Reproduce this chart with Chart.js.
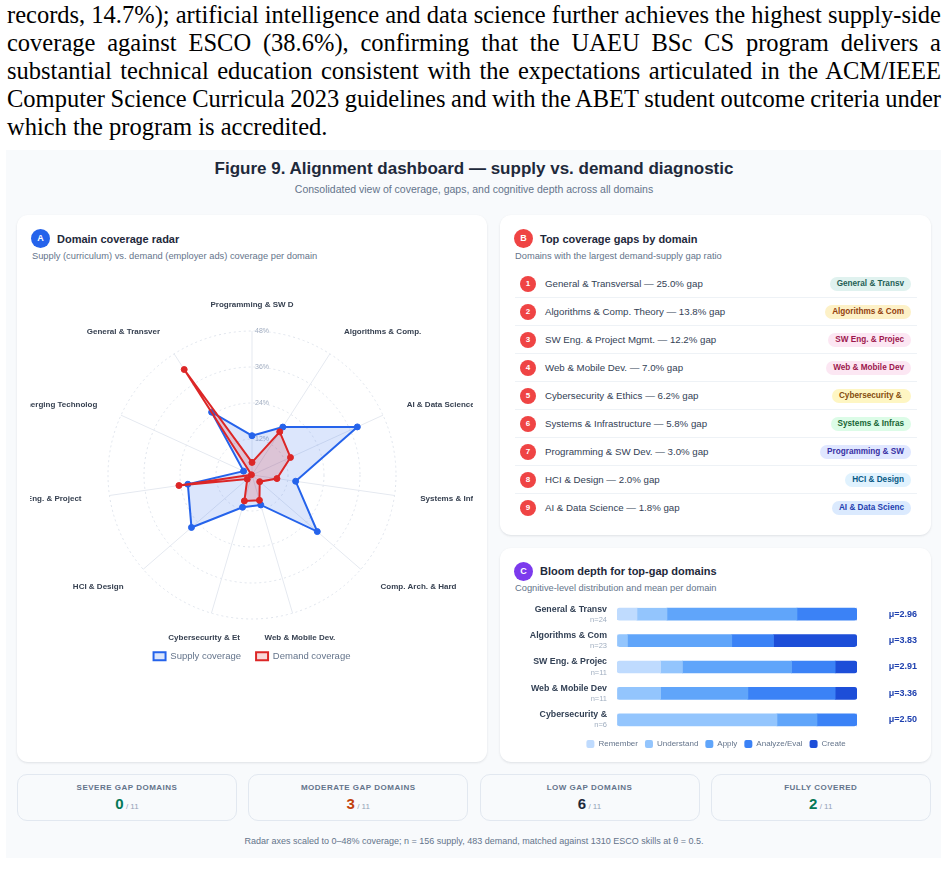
<!DOCTYPE html>
<html>
<head>
<meta charset="utf-8">
<script src="https://cdn.jsdelivr.net/npm/chart.js@4.4.1/dist/chart.umd.min.js"></script>
<style>
html, body { margin: 0; padding: 0; background: #fff; }
body { width: 948px; height: 875px; position: relative; overflow: hidden; font-family: 'Liberation Sans', Arial, sans-serif; }
.abs { position: absolute; }
.para { left: 7px; top: 1px; width: 934px; font-family: 'Liberation Serif', 'Times New Roman', serif; font-size: 24.5px; line-height: 28px; word-spacing: -1px; color: #000; }
.para div { text-align: justify; text-align-last: justify; white-space: nowrap; }
.para div.last { text-align-last: left; word-spacing: 0; }
.panel { left: 6px; top: 150px; width: 935px; height: 708px; background: #f8fafc; }
.title { left: 0; width: 948px; top: 158px; text-align: center; font-weight: bold; font-size: 17px; line-height: 22px; color: #1e293b; }
.subtitle { left: 0; width: 948px; top: 183px; text-align: center; font-size: 10.5px; line-height: 13px; color: #64748b; }
.card { background: #fff; border-radius: 11px; box-shadow: 0 1px 3px rgba(15, 23, 42, 0.07), 0 1px 2px rgba(15, 23, 42, 0.04); }
.badge { width: 19px; height: 19px; border-radius: 50%; color: #fff; font-weight: bold; font-size: 9px; line-height: 19px; text-align: center; }
.ctitle { font-weight: bold; font-size: 11px; line-height: 14px; color: #1e293b; white-space: nowrap; }
.csub { font-size: 9.3px; line-height: 12px; color: #64748b; white-space: nowrap; }
.row { position: absolute; left: 0; width: 402px; height: 28px; box-sizing: border-box; border-bottom: 1px solid #eef2f6; }
.row.last { border-bottom: none; }
.num { position: absolute; left: 5px; top: 6px; width: 16px; height: 16px; border-radius: 50%; background: #ef4444; color: #fff; font-weight: bold; font-size: 8px; line-height: 16px; text-align: center; }
.rtext { position: absolute; left: 30px; top: 7px; font-size: 9.7px; line-height: 14px; color: #334155; white-space: nowrap; }
.pill { position: absolute; right: 6px; top: 7px; height: 14px; padding: 0 7px; border-radius: 7px; font-weight: bold; font-size: 8.2px; line-height: 14px; white-space: pre; }
.stat { top: 774px; width: 220px; height: 47px; box-sizing: border-box; border: 1px solid #e2e8f0; border-radius: 10px; background: #f8fafc; text-align: center; }
.slabel { position: absolute; left: 0; right: 0; top: 8px; font-weight: bold; font-size: 8px; line-height: 10px; letter-spacing: 0.5px; color: #64748b; }
.sval { position: absolute; left: 0; right: 0; top: 20px; line-height: 18px; }
.sval b { font-size: 15px; }
.sval span { font-size: 8px; color: #94a3b8; }
.foot { left: 0; width: 948px; top: 835px; text-align: center; font-size: 9px; line-height: 12px; color: #64748b; }
</style>
</head>
<body>
<div class="abs para">
  <div>records, 14.7%); artificial intelligence and data science further achieves the highest supply-side</div>
  <div>coverage against ESCO (38.6%), confirming that the UAEU BSc CS program delivers a</div>
  <div>substantial technical education consistent with the expectations articulated in the ACM/IEEE</div>
  <div>Computer Science Curricula 2023 guidelines and with the ABET student outcome criteria under</div>
  <div class="last">which the program is accredited.</div>
</div>

<div class="abs panel"></div>
<div class="abs title">Figure 9. Alignment dashboard — supply vs. demand diagnostic</div>
<div class="abs subtitle">Consolidated view of coverage, gaps, and cognitive depth across all domains</div>

<!-- A: radar -->
<div class="abs card" style="left:17px; top:215px; width:470px; height:547px;"></div>
<div class="abs badge" style="left:31px; top:229px; background:#2563eb;">A</div>
<div class="abs ctitle" style="left:57px; top:232px;">Domain coverage radar</div>
<div class="abs csub" style="left:32px; top:250px;">Supply (curriculum) vs. demand (employer ads) coverage per domain</div>
<div class="abs" style="left:30px; top:284px; width:443px; height:388px;"><canvas id="radar"></canvas></div>

<!-- B: gap list -->
<div class="abs card" style="left:500px; top:215px; width:431px; height:320px;"></div>
<div class="abs badge" style="left:514px; top:229px; background:#ef4444;">B</div>
<div class="abs ctitle" style="left:540px; top:232px;">Top coverage gaps by domain</div>
<div class="abs csub" style="left:515px; top:250px;">Domains with the largest demand-supply gap ratio</div>
<div class="abs" id="gaplist" style="left:515px; top:270px; width:402px; height:252px;"></div>

<!-- C: bloom -->
<div class="abs card" style="left:500px; top:548px; width:431px; height:214px;"></div>
<div class="abs badge" style="left:514px; top:562px; background:#7c3aed;">C</div>
<div class="abs ctitle" style="left:540px; top:564px;">Bloom depth for top-gap domains</div>
<div class="abs csub" style="left:515px; top:582px;">Cognitive-level distribution and mean per domain</div>
<div class="abs" style="left:515px; top:601px; width:402px; height:157px;"><canvas id="bloom"></canvas></div>

<div id="stats"></div>
<div class="abs foot">Radar axes scaled to 0–48% coverage; n = 156 supply, 483 demand, matched against 1310 ESCO skills at θ = 0.5.</div>

<script>
// Radar data (coverage %, read per domain)
const domains = ['Programming & SW Dev.', 'Algorithms & Comp. Theory', 'AI & Data Science', 'Systems & Infrastructure',
  'Comp. Arch. & Hardware', 'Web & Mobile Dev.', 'Cybersecurity & Ethics', 'HCI & Design',
  'SW Eng. & Project Mgmt.', 'Emerging Technologies', 'General & Transversal'];
const supply = [13.1, 19.0, 38.6, 14.7, 28.8, 10.4, 11.2, 26.7, 21.6, 3.1, 24.9];
const demand = [4.2, 17.1, 14.1, 8.4, 3.4, 8.8, 9.0, 2.1, 24.6, 0.2, 41.8];
const radarMax = 48;
const radarStep = 12;

// Gap ranking
const gapDomains = ['General & Transversal', 'Algorithms & Comp. Theory', 'SW Eng. & Project Mgmt.', 'Web & Mobile Dev.',
  'Cybersecurity & Ethics', 'Systems & Infrastructure', 'Programming & SW Dev.', 'HCI & Design', 'AI & Data Science'];
const gapValues = [25.0, 13.8, 12.2, 7.0, 6.2, 5.8, 3.0, 2.0, 1.8];
const pillBg = ['#e0f2ef', '#fdf1c7', '#fce7f3', '#fce7f3', '#fef6c3', '#dcfce7', '#e0e7ff', '#e0f2fe', '#dbeafe'];
const pillFg = ['#1f5f55', '#92400e', '#9d174d', '#9d174d', '#854d0e', '#166534', '#3730a3', '#075985', '#1e40af'];

// Bloom counts per domain
const bloomDomains = ['General & Transv', 'Algorithms & Com', 'SW Eng. & Projec', 'Web & Mobile Dev', 'Cybersecurity &'];
const bloomLevels = ['Remember', 'Understand', 'Apply', 'Analyze/Eval', 'Create'];
const remember = [2, 0, 2, 0, 0];
const understand = [3, 1, 1, 2, 4];
const apply = [13, 10, 5, 4, 1];
const analyze = [6, 4, 2, 4, 1];
const create = [0, 8, 1, 1, 0];
const bloomMeans = [2.96, 3.83, 2.91, 3.36, 2.50];
const bloomColors = ['#bfdbfe', '#93c5fd', '#60a5fa', '#3b82f6', '#1d4ed8'];

// Summary tiles
const statLabels = ['SEVERE GAP DOMAINS', 'MODERATE GAP DOMAINS', 'LOW GAP DOMAINS', 'FULLY COVERED'];
const statValues = [0, 3, 6, 2];
const statColors = ['#047857', '#c2410c', '#1e293b', '#047857'];
const domainTotal = 11;

Chart.defaults.font.family = "'Liberation Sans', Arial, sans-serif";

// Gap list
const list = document.getElementById('gaplist');
gapDomains.forEach((d, i) => {
  const row = document.createElement('div');
  row.className = 'row' + (i === gapDomains.length - 1 ? ' last' : '');
  row.style.top = (i * 28) + 'px';
  const num = document.createElement('div');
  num.className = 'num';
  num.textContent = i + 1;
  const txt = document.createElement('div');
  txt.className = 'rtext';
  txt.textContent = d + ' — ' + gapValues[i].toFixed(1) + '% gap';
  const pill = document.createElement('div');
  pill.className = 'pill';
  pill.style.background = pillBg[i];
  pill.style.color = pillFg[i];
  pill.textContent = d.slice(0, 16);
  row.append(num, txt, pill);
  list.appendChild(row);
});

// Stat tiles
const stats = document.getElementById('stats');
statLabels.forEach((l, i) => {
  const box = document.createElement('div');
  box.className = 'abs stat';
  box.style.left = (17 + i * 231.25) + 'px';
  box.innerHTML = '<div class="slabel"></div><div class="sval"><b></b><span> / ' + domainTotal + '</span></div>';
  box.querySelector('.slabel').textContent = l;
  const b = box.querySelector('b');
  b.textContent = statValues[i];
  b.style.color = statColors[i];
  stats.appendChild(box);
});

// Radar: axis names and % ticks drawn from the scale geometry
const radarText = {
  id: 'radarText',
  beforeDatasetsDraw(chart) {
    const s = chart.scales.r, ctx = chart.ctx;
    ctx.save();
    ctx.font = "7px 'Liberation Sans', Arial, sans-serif";
    ctx.fillStyle = '#a3afc2';
    ctx.textAlign = 'left';
    ctx.textBaseline = 'middle';
    s.ticks.forEach(t => {
      if (t.value <= 0) return;
      ctx.fillText(t.value + '%', s.xCenter + 3, s.yCenter - s.getDistanceFromCenterForValue(t.value));
    });
    ctx.restore();
  },
  afterDraw(chart) {
    const s = chart.scales.r, ctx = chart.ctx;
    const labels = chart.data.labels;
    ctx.save();
    ctx.font = "bold 8px 'Liberation Sans', Arial, sans-serif";
    ctx.fillStyle = '#374151';
    ctx.textBaseline = 'middle';
    labels.forEach((lab, i) => {
      const p = s.getPointPosition(i, s.drawingArea + 26);
      const sx = Math.sin(i / labels.length * Math.PI * 2);
      ctx.textAlign = Math.abs(sx) < 0.3 ? 'center' : (sx > 0 ? 'left' : 'right');
      ctx.fillText(lab, p.x, p.y);
    });
    ctx.restore();
  }
};

new Chart(document.getElementById('radar'), {
  type: 'radar',
  data: {
    labels: domains.map(d => d.slice(0, 18)),
    datasets: [
      {
        label: 'Supply coverage', data: supply, order: 2,
        borderColor: '#2563eb', backgroundColor: 'rgba(37, 99, 235, 0.16)',
        pointBackgroundColor: '#2563eb', pointBorderColor: '#2563eb',
        borderWidth: 2, pointRadius: 3, pointBorderWidth: 1, fill: true
      },
      {
        label: 'Demand coverage', data: demand, order: 1,
        borderColor: '#dc2626', backgroundColor: 'rgba(220, 38, 38, 0.18)',
        pointBackgroundColor: '#dc2626', pointBorderColor: '#dc2626',
        borderWidth: 2, pointRadius: 3, pointBorderWidth: 1, fill: true
      }
    ]
  },
  options: {
    responsive: true,
    maintainAspectRatio: false,
    animation: false,
    layout: { padding: { left: 78, right: 77, top: 31, bottom: 1 } },
    plugins: {
      legend: {
        position: 'bottom',
        labels: {
          boxWidth: 12, boxHeight: 8, padding: 15, color: '#64748b', font: { size: 9.5 },
          sort: (a, b) => a.datasetIndex - b.datasetIndex
        }
      },
      tooltip: { enabled: false }
    },
    scales: {
      r: {
        min: 0,
        max: radarMax,
        ticks: { stepSize: radarStep, display: false },
        pointLabels: { display: false },
        grid: { circular: true, color: '#dfe4ec', lineWidth: 1 },
        border: { dash: [2, 3] },
        angleLines: { color: '#e5e9f0', lineWidth: 1 }
      }
    }
  },
  plugins: [radarText]
});

// Bloom stacked bars (share of each level per domain)
const bloomSeries = [remember, understand, apply, analyze, create];
const bloomN = bloomDomains.map((_, r) => bloomSeries.reduce((sum, s) => sum + s[r], 0));

function edgeRadius(ctx) {
  const r = ctx.dataIndex, d = ctx.datasetIndex;
  let first = -1, last = -1;
  bloomSeries.forEach((s, k) => { if (s[r] > 0) { if (first < 0) first = k; last = k; } });
  const L = d === first ? 3 : 0, R = d === last ? 3 : 0;
  return { topLeft: L, bottomLeft: L, topRight: R, bottomRight: R };
}

// "n=" counts under each domain name
const bloomNotes = {
  id: 'bloomNotes',
  afterDraw(chart) {
    const y = chart.scales.y, ctx = chart.ctx;
    ctx.save();
    ctx.font = "7.5px 'Liberation Sans', Arial, sans-serif";
    ctx.fillStyle = '#a0aec0';
    ctx.textAlign = 'right';
    ctx.textBaseline = 'middle';
    bloomN.forEach((n, i) => ctx.fillText('n=' + n, chart.chartArea.left - 10, y.getPixelForValue(i) + 5.5));
    ctx.restore();
  }
};

function fixedWidth(w) {
  return s => { s.width = w; s.paddingTop = 0; s.paddingBottom = 0; };
}

new Chart(document.getElementById('bloom'), {
  type: 'bar',
  data: {
    labels: bloomDomains,
    datasets: bloomSeries.map((s, k) => ({
      label: bloomLevels[k],
      data: s.map((v, r) => v / bloomN[r] * 100),
      backgroundColor: bloomColors[k],
      borderWidth: 0,
      borderSkipped: false,
      borderRadius: edgeRadius,
      barThickness: 12
    }))
  },
  options: {
    indexAxis: 'y',
    responsive: true,
    maintainAspectRatio: false,
    animation: false,
    plugins: {
      legend: {
        position: 'bottom',
        labels: {
          boxWidth: 8, boxHeight: 8, padding: 7, color: '#64748b', font: { size: 8 },
          useBorderRadius: true, borderRadius: 2
        }
      },
      tooltip: { enabled: false }
    },
    scales: {
      x: { stacked: true, min: 0, max: 100, display: false },
      y: {
        stacked: true,
        grid: { display: false, drawTicks: false }, border: { display: false },
        ticks: { padding: 10, labelOffset: -5, color: '#334155', font: { size: 8.8, weight: 'bold' } },
        afterFit: fixedWidth(102)
      },
      yM: {
        type: 'category', labels: bloomMeans.map(m => 'μ=' + m.toFixed(2)), position: 'right', offset: true,
        grid: { display: false, drawTicks: false }, border: { display: false },
        ticks: { padding: 0, crossAlign: 'far', color: '#1e40af', font: { size: 9, weight: 'bold' } },
        afterFit: fixedWidth(60)
      }
    }
  },
  plugins: [bloomNotes]
});
</script>
</body>
</html>
